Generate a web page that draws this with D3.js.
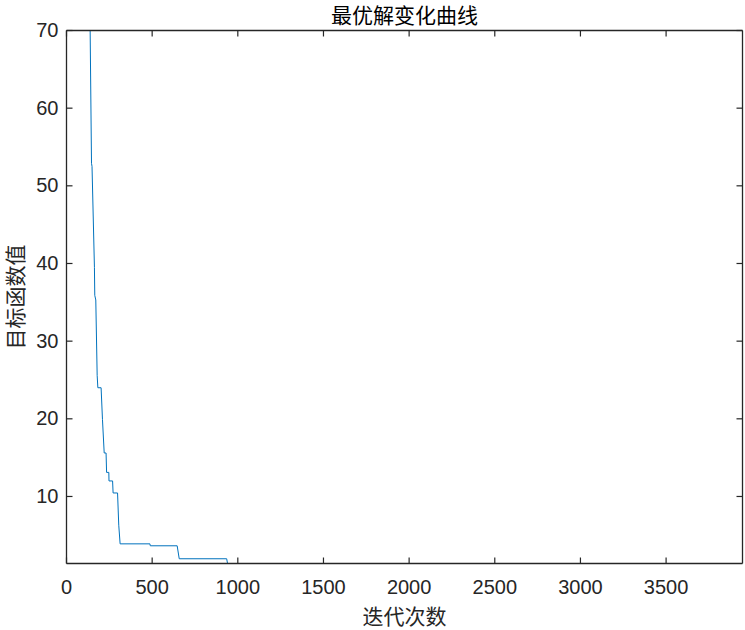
<!DOCTYPE html>
<html>
<head>
<meta charset="utf-8">
<script src="https://cdn.jsdelivr.net/npm/d3@7"></script>
<style>
  html, body { margin: 0; padding: 0; background: #fff; }
  svg { display: block; }
</style>
</head>
<body>
<div id="chart"></div>
<script>
// ---- Data ----
const titleText = "最优解变化曲线";
const xLabelText = "迭代次数";
const yLabelText = "目标函数值";
const xTicks = [0, 500, 1000, 1500, 2000, 2500, 3000, 3500];
const yTicks = [10, 20, 30, 40, 50, 60, 70];
const xDomain = [0, 3946];
const yDomain = [1.37, 70];
// iteration breakpoints and best objective value
const iterations = [0, 100, 137, 138, 146, 149, 163, 165, 171, 179, 183, 202, 210, 220, 231, 234, 247, 248, 269, 272, 298, 305, 313, 487, 489, 646, 658, 935, 940, 3946];
const bestValues = [260, 130, 74, 70, 52.9, 52.5, 39.5, 35.9, 35.3, 25.6, 24.0, 24.0, 19.9, 15.6, 15.6, 13.1, 13.1, 12.0, 12.0, 10.45, 10.45, 6.3, 3.9, 3.9, 3.65, 3.65, 1.98, 1.98, 1.37, 1.37];

// ---- Layout ----
const W = 745, H = 630;
const plot = { left: 66.5, right: 742.5, top: 30.5, bottom: 563.5 };
const axisColor = "#262626";

const svg = d3.select("#chart").append("svg")
  .attr("width", W).attr("height", H);

const x = d3.scaleLinear().domain(xDomain).range([plot.left, plot.right]);
const y = d3.scaleLinear().domain(yDomain).range([plot.bottom, plot.top]);

svg.append("defs").append("clipPath").attr("id", "clip")
  .append("rect")
  .attr("x", plot.left).attr("y", plot.top)
  .attr("width", plot.right - plot.left).attr("height", plot.bottom - plot.top);

const data = iterations.map((it, i) => ({ it, v: bestValues[i] }));

const line = d3.line().x(d => x(d.it)).y(d => y(d.v));

svg.append("path")
  .datum(data)
  .attr("clip-path", "url(#clip)")
  .attr("fill", "none")
  .attr("stroke", "#0072BD")
  .attr("stroke-width", 1)
  .attr("d", line);

const tickLen = 6;
const tickFont = "Liberation Sans, Arial, sans-serif";

// bottom axis (ticks inward)
const gB = svg.append("g").attr("transform", `translate(0,${plot.bottom})`)
  .call(d3.axisBottom(x).offset(0).tickValues(xTicks).tickSizeInner(-tickLen).tickSizeOuter(0).tickPadding(16).tickFormat(d3.format("d")));
// top axis
const gT = svg.append("g").attr("transform", `translate(0,${plot.top})`)
  .call(d3.axisTop(x).offset(0).tickValues(xTicks).tickSizeInner(-tickLen).tickSizeOuter(0).tickFormat(""));
// left axis
const gL = svg.append("g").attr("transform", `translate(${plot.left},0)`)
  .call(d3.axisLeft(y).offset(0).tickValues(yTicks).tickSizeInner(-tickLen).tickSizeOuter(0).tickPadding(10).tickFormat(d3.format("d")));
// right axis
const gR = svg.append("g").attr("transform", `translate(${plot.right},0)`)
  .call(d3.axisRight(y).offset(0).tickValues(yTicks).tickSizeInner(-tickLen).tickSizeOuter(0).tickFormat(""));

[gB, gT, gL, gR].forEach(g => {
  g.select(".domain").attr("stroke", axisColor).attr("stroke-width", 1.3);
  g.selectAll(".tick line").attr("stroke", axisColor).attr("stroke-width", 1.2);
  g.selectAll(".tick text")
    .attr("fill", axisColor)
    .style("font-family", tickFont)
    .style("font-size", "20px");
});
gL.selectAll(".tick text").attr("dx", "0.1em");

const cjk = "'Noto Sans CJK SC', sans-serif";

svg.append("text")
  .attr("x", (plot.left + plot.right) / 2)
  .attr("y", 14)
  .attr("text-anchor", "middle")
  .attr("dominant-baseline", "central")
  .style("font-family", cjk)
  .style("font-size", "21px")
  .attr("fill", "#000")
  .text(titleText);

svg.append("text")
  .attr("x", (plot.left + plot.right) / 2)
  .attr("y", 615)
  .attr("text-anchor", "middle")
  .attr("dominant-baseline", "central")
  .style("font-family", cjk)
  .style("font-size", "21px")
  .attr("fill", axisColor)
  .text(xLabelText);

svg.append("text")
  .attr("transform", `translate(14,${(plot.top + plot.bottom) / 2}) rotate(-90)`)
  .attr("text-anchor", "middle")
  .attr("dominant-baseline", "central")
  .style("font-family", cjk)
  .style("font-size", "21px")
  .attr("fill", axisColor)
  .text(yLabelText);
</script>
</body>
</html>
